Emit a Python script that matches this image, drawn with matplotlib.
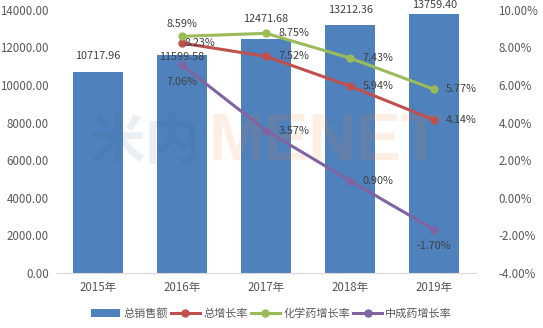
import numpy as np
import matplotlib.pyplot as plt

plt.rcParams['font.family'] = ['Noto Sans CJK SC', 'DejaVu Sans']

# 数据
years = ["2015年", "2016年", "2017年", "2018年", "2019年"]
sales = [10717.96, 11599.58, 12471.68, 13212.36, 13759.40]
total_growth = [np.nan, 8.23, 7.52, 5.94, 4.14]
chem_growth = [np.nan, 8.59, 8.75, 7.43, 5.77]
tcm_growth = [np.nan, 7.06, 3.57, 0.90, -1.70]

c_bar = "#4F81BD"
c_red = "#C0504D"
c_green = "#9BBB59"
c_purple = "#8064A2"
c_text = "#595959"
fs = 7.8
tfs = 8.3

fig = plt.figure(figsize=(5.43, 3.28), dpi=100)
ax = fig.add_axes([0.103, 0.168, 0.774, 0.802])
ax2 = ax.twinx()

x = np.arange(len(years))
ax.bar(x, sales, width=0.6, color=c_bar, label="总销售额", zorder=1)
ax.set_ylim(0, 14000)
ax.set_xlim(-0.5, 4.5)
ax.set_yticks(np.arange(0, 14001, 2000))
ax.set_yticklabels([f"{v:.2f}" for v in np.arange(0, 14001, 2000)])
ax.set_xticks(x)
ax.set_xticklabels(years)

# 柱顶标签(各自的上移量, 单位 pt)
bar_lift = [11, -1.5, 14, 10.5, 6.5]
for xi, v, d in zip(x, sales, bar_lift):
    ax.annotate(f"{v:.2f}", (xi, v), xytext=(0, d), textcoords="offset points",
                ha="center", va="center", fontsize=fs, color="#404040")

# 水印
ax.text(0.56, 6900, "米内", ha="center", va="center", fontsize=40, fontweight="bold",
        color="#2a6a8a", alpha=0.1, zorder=3)
ax.text(2.7, 6900, "MENET", ha="center", va="center", fontsize=48, fontweight="bold",
        family="Liberation Sans", color="#f08020", alpha=0.12, zorder=3)

ax2.plot(x, total_growth, color=c_red, lw=2.2, marker="o", ms=5, label="总增长率")
ax2.plot(x, chem_growth, color=c_green, lw=2.2, marker="o", ms=5, label="化学药增长率")
ax2.plot(x, tcm_growth, color=c_purple, lw=2.2, marker="o", ms=5, label="中成药增长率")
ax2.set_ylim(-4, 10)
ax2.set_yticks(np.arange(-4, 10.1, 2))
ax2.set_yticklabels([f"{v:.2f}%" for v in np.arange(-4, 10.1, 2)])

# 数据标签
def lab(xi, yi, dx, dy, ha="left"):
    ax2.annotate(f"{yi:.2f}%", (xi, yi), xytext=(dx, dy), textcoords="offset points",
                 ha=ha, va="center", fontsize=fs, color="#404040")

lab(1, 8.23, 2, 0)
lab(2, 7.52, 9, 0)
lab(3, 5.94, 9, 0)
lab(4, 4.14, 8.5, 0)
lab(1, 8.59, 0, 9, ha="center")
lab(2, 8.75, 9, 0)
lab(3, 7.43, 9, 0)
lab(4, 5.77, 8.5, 0)
lab(1, 7.06, 0, -12, ha="center")
lab(2, 3.57, 9, 0)
lab(3, 0.90, 9, 0)
lab(4, -1.70, 0, -12, ha="center")

for a in (ax, ax2):
    for s in a.spines.values():
        s.set_visible(False)
    a.tick_params(length=0, labelsize=tfs, colors=c_text)
ax.spines["bottom"].set_visible(True)
ax.spines["bottom"].set_color("#d9d9d9")
ax.tick_params(axis="x", pad=6)
ax.tick_params(axis="y", pad=5)
ax2.tick_params(axis="y", pad=16)

h1, l1 = ax.get_legend_handles_labels()
h2, l2 = ax2.get_legend_handles_labels()
fig.legend(h1 + h2, l1 + l2, loc="center", bbox_to_anchor=(0.5, 0.045), ncol=4,
           frameon=False, fontsize=8, handlelength=2.6, columnspacing=0.3,
           handletextpad=0.3, labelcolor=c_text)

fig.savefig("out.png", dpi=100)
